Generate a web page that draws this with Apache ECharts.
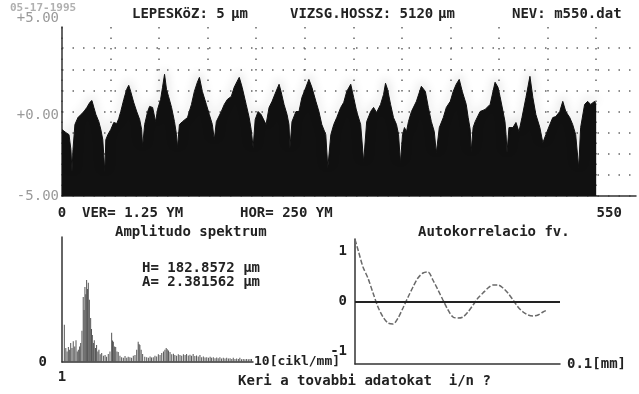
<!DOCTYPE html>
<html>
<head>
<meta charset="utf-8">
<script src="https://cdn.jsdelivr.net/npm/echarts@6/dist/echarts.min.js"></script>
<style>
html,body{margin:0;padding:0;background:#fff;}
#main{width:639px;height:394px;}
</style>
</head>
<body>
<div id="main"></div>
<script>
// felulet profil: [pozicio, magassag um]
var profilePoints = [
	[0,-1.07],[4.1,-1.25],[7.2,-1.37],[9.2,-2.26],[10.3,-3.57],[11.3,-2.26],[13.3,-0.77],[16.4,-0.36],[19.5,-0.18],[22.6,0],
	[25.6,0.24],[28.7,0.54],[30.8,0.65],[32.8,0.24],[34.9,-0.18],[37.9,-0.60],[40,-1.07],[42,-1.67],[44.1,-3.57],[45.1,-1.67],
	[47.2,-1.37],[50.2,-1.07],[53.3,-0.65],[56.4,-0.71],[58.4,-0.42],[60.5,0],[63.6,0.71],[66.6,1.31],[68.7,1.55],[70.7,1.19],
	[73.8,0.54],[76.9,0],[80,-0.48],[82,-1.07],[83,-2.08],[85.1,-0.77],[88.2,0],[90.2,0.30],[93.3,0.24],[96.4,-0.60],
	[98.4,0.12],[101.5,0.71],[103.5,1.43],[105.6,2.20],[107.6,1.31],[109.7,0.89],[112.8,0.24],[115.8,-0.60],[117.9,-1.37],[118.9,-2.14],
	[120.9,-0.77],[124,-0.60],[129.2,-0.36],[133.3,0.42],[136.3,1.19],[139.4,1.73],[141.5,2.02],[144.5,1.19],[148.6,0.42],[151.7,-0.18],
	[154.8,-0.77],[156.8,-1.67],[158.9,-0.60],[164,0],[167.1,0.42],[170.2,0.71],[174.3,0.89],[177.3,1.43],[180.4,1.79],[182.5,2.02],
	[185.5,1.43],[189.6,0.42],[192.7,-0.36],[194.8,-1.07],[196.8,-2.14],[198.9,-0.48],[201.9,0],[205,-0.18],[210.1,-0.77],[213.2,0.24],
	[216.3,0.60],[220.4,1.19],[223.5,1.61],[225.5,1.19],[228.6,0.42],[231.7,-0.18],[233.7,-0.77],[234.7,-2.14],[236.8,-0.60],[240.9,0],
	[244,0],[247,0.83],[251.1,1.43],[254.2,1.90],[257.3,1.43],[261.4,0.60],[264.5,0],[267.5,-0.77],[271.6,-1.37],[273.7,-3.33],
	[276.8,-1.37],[279.8,-0.77],[282.9,-0.36],[287,0.24],[290.1,0.54],[293.2,1.19],[297.3,1.61],[300.3,0.83],[303.4,0],[307.5,-0.77],
	[310.6,-2.98],[313.7,-0.60],[317.8,0],[320.8,0.24],[323.9,-0.06],[328,0.42],[331.1,1.01],[333.1,1.67],[335.2,1.31],[338.3,0.42],
	[341.3,-0.36],[344.4,-0.77],[346.5,-1.37],[348.5,-3.04],[350.6,-1.37],[352.6,-0.95],[354.7,-1.19],[356.7,-0.60],[359.8,0],[364.9,0.60],
	[370,1.49],[374.1,1.19],[377.2,0.24],[380.3,-0.60],[383.3,-1.19],[385.4,-2.44],[388.5,-0.95],[392.6,-0.36],[395.7,0.24],[399.8,0.60],
	[402.8,1.19],[405.9,1.61],[409,1.90],[412.1,1.19],[416.2,0.42],[418.2,-0.36],[420.3,-1.07],[421.3,-2.38],[423.3,-0.95],[425.4,-0.60],
	[430.5,0],[435.6,0.12],[440.8,0.42],[443.8,1.19],[445.9,1.73],[448.9,1.43],[451,0.89],[454.1,0],[456.1,-0.60],[457.2,-1.37],
	[458.2,-2.44],[460.2,-0.95],[464.3,-0.95],[467.4,-0.65],[470.5,-1.19],[473.6,-0.36],[477.7,0.83],[481.8,2.08],[484.8,0.83],[487.9,-0.18],
	[492,-0.95],[495.1,-1.85],[498.2,-1.37],[502.3,-0.77],[505.3,-0.36],[508.4,-0.30],[512.5,0],[515.6,0.60],[518.7,0],[522.8,-0.36],
	[525.8,-0.77],[528.9,-1.37],[532,-3.33],[534,-0.95],[538.1,0.42],[541.2,0.60],[544.3,0.42],[548.4,0.60],[550,0.42]
];
var profileYTicks = [-5, 0, 5];
var profileXTicks = [0, 550];

// amplitudo spektrum: [cikl/mm, um]
var spectrumPoints = [
	[1.11,1.07],[1.18,0.40],[1.24,0.30],[1.30,0.43],[1.36,0.35],[1.41,0.55],[1.47,0.40],[1.53,0.60],[1.60,0.45],[1.66,0.63],
	[1.72,0.30],[1.77,0.35],[1.83,0.45],[1.88,0.55],[1.94,0.90],[2.00,1.87],[2.04,1.50],[2.08,2.16],[2.12,1.95],[2.16,2.36],
	[2.20,2.10],[2.24,2.28],[2.29,1.79],[2.35,1.27],[2.39,0.95],[2.43,0.78],[2.48,0.55],[2.52,0.63],[2.58,0.40],[2.63,0.49],
	[2.69,0.30],[2.74,0.35],[2.80,0.22],[2.87,0.26],[2.95,0.18],[3.03,0.20],[3.10,0.15],[3.18,0.23],[3.26,0.30],[3.34,0.84],
	[3.38,0.62],[3.42,0.58],[3.48,0.45],[3.53,0.43],[3.59,0.30],[3.65,0.29],[3.73,0.18],[3.81,0.14],[3.89,0.12],[3.97,0.17],
	[4.05,0.12],[4.12,0.15],[4.20,0.14],[4.28,0.12],[4.36,0.18],[4.44,0.20],[4.52,0.35],[4.59,0.58],[4.63,0.52],[4.67,0.49],
	[4.73,0.35],[4.80,0.23],[4.90,0.15],[4.99,0.14],[5.07,0.12],[5.15,0.16],[5.22,0.13],[5.30,0.14],[5.38,0.18],[5.46,0.16],
	[5.54,0.22],[5.62,0.20],[5.70,0.26],[5.78,0.30],[5.85,0.35],[5.91,0.40],[5.96,0.37],[6.02,0.33],[6.09,0.29],[6.17,0.22],
	[6.25,0.24],[6.32,0.20],[6.40,0.18],[6.48,0.22],[6.56,0.20],[6.64,0.18],[6.72,0.22],[6.80,0.20],[6.87,0.23],[6.95,0.19],
	[7.03,0.21],[7.10,0.18],[7.18,0.23],[7.26,0.17],[7.34,0.19],[7.42,0.16],[7.50,0.20],[7.58,0.14],[7.66,0.16],[7.74,0.13],
	[7.82,0.14],[7.90,0.12],[7.98,0.15],[8.05,0.12],[8.13,0.14],[8.21,0.11],[8.29,0.13],[8.36,0.11],[8.44,0.14],[8.52,0.10],
	[8.60,0.12],[8.68,0.10],[8.76,0.12],[8.84,0.10],[8.92,0.11],[9.00,0.09],[9.07,0.12],[9.15,0.09],[9.23,0.10],[9.31,0.09],
	[9.38,0.12],[9.46,0.08],[9.54,0.09],[9.62,0.08],[9.70,0.09],[9.78,0.08],[9.86,0.09],[9.93,0.09]
];

// autokorrelacio: [0.1 mm, ertek]
var acfPoints = [
	[0,1.24],[0.15,1.03],[0.39,0.69],[0.63,0.47],[0.88,0.17],[1.12,-0.11],[1.37,-0.31],[1.61,-0.43],[1.85,-0.45],[2.10,-0.33],
	[2.34,-0.13],[2.59,0.09],[2.83,0.29],[3.07,0.47],[3.32,0.57],[3.56,0.59],[3.80,0.43],[4.05,0.23],[4.29,0.03],[4.54,-0.17],
	[4.78,-0.31],[5.02,-0.33],[5.27,-0.31],[5.51,-0.21],[5.76,-0.07],[6.00,0.07],[6.24,0.17],[6.49,0.27],[6.73,0.33],[6.98,0.33],
	[7.22,0.27],[7.46,0.17],[7.71,0.03],[7.95,-0.11],[8.20,-0.21],[8.44,-0.27],[8.68,-0.29],[8.93,-0.27],[9.17,-0.21],[9.37,-0.17]
];
var acfTicks = [-1, 0, 1];

var MONO = '"DejaVu Sans Mono", monospace';
var INK = '#222';

function txt(x, y, s, color, size){
	return {
		type: 'text', x: x, y: y, silent: true,
		style: {text: s, fill: color || INK, font: 'bold ' + (size || 14) + 'px ' + MONO, verticalAlign: 'middle'}
	};
}

var labelStyle = {fontFamily: MONO, fontWeight: 'bold', fontSize: 14, color: INK};
var axisInk = {show: true, onZero: false, lineStyle: {color: '#333', width: 1.5}};
var dots = {show: true, showMaxLine: false, lineStyle: {color: '#666', width: 1.5, type: [1.5, 9]}};

var myChart = echarts.init(document.getElementById('main'));
var option = {
	animation: false,
	backgroundColor: '#fff',
	grid: [
		{left: 62, top: 27, width: 577, height: 169},
		{left: 62, top: 237, width: 191, height: 125},
		{left: 355, top: 239, width: 205, height: 125}
	],
	xAxis: [
		{
			gridIndex: 0, type: 'value', min: 0, max: 591, interval: 50,
			axisLine: axisInk, axisTick: {show: false}, splitLine: dots,
			axisLabel: Object.assign({}, labelStyle, {
				margin: 10,
				formatter: function(v){
					if(profileXTicks.indexOf(v) < 0) return '';
					return v === 0 ? '0' : '{r|' + v + '}';
				},
				rich: {r: {padding: [0, 0, 0, 26]}}
			})
		},
		{
			gridIndex: 1, type: 'value', min: 1, max: 10, interval: 1,
			axisLine: axisInk, axisTick: {show: false}, splitLine: {show: false},
			name: '10[cikl/mm]', nameLocation: 'end', nameGap: 1,
			nameTextStyle: Object.assign({}, labelStyle, {verticalAlign: 'middle', align: 'left', fontSize: 13}),
			axisLabel: Object.assign({}, labelStyle, {
				margin: 8,
				formatter: function(v){ return v === 1 ? '1' : ''; }
			})
		},
		{
			gridIndex: 2, type: 'value', min: 0, max: 10,
			axisLine: axisInk, axisTick: {show: false}, splitLine: {show: false},
			name: '0.1[mm]', nameLocation: 'end', nameGap: 7,
			nameTextStyle: Object.assign({}, labelStyle, {verticalAlign: 'middle', align: 'left'}),
			axisLabel: {show: false}
		}
	],
	yAxis: [
		{
			gridIndex: 0, type: 'value', min: -5, max: 5, interval: 1.25,
			axisLine: axisInk, axisTick: {show: false}, splitLine: dots,
			axisLabel: Object.assign({}, labelStyle, {
				color: '#9a9a9a', margin: 3, fontWeight: 'normal',
				formatter: function(v){
					if(profileYTicks.indexOf(v) < 0) return '';
					if(v === 5) return '{t|+5.00}';
					if(v === 0) return '{m|+0.00}';
					return '-5.00';
				},
				rich: {t: {padding: [0, 0, 18, 0]}, m: {padding: [7, 0, 0, 0]}}
			})
		},
		{
			gridIndex: 1, type: 'value', min: 0, max: 3.6,
			axisLine: axisInk, axisTick: {show: false}, splitLine: {show: false},
			axisLabel: Object.assign({}, labelStyle, {
				margin: 15,
				formatter: function(v){ return v === 0 ? '0' : ''; }
			})
		},
		{
			gridIndex: 2, type: 'value', min: -1.25, max: 1.25, interval: 0.25,
			axisLine: axisInk, axisTick: {show: false}, splitLine: {show: false},
			axisLabel: Object.assign({}, labelStyle, {
				margin: 8,
				formatter: function(v){ return acfTicks.indexOf(v) < 0 ? '' : String(v); }
			})
		}
	],
	series: [
		{
			type: 'line', xAxisIndex: 0, yAxisIndex: 0,
			data: profilePoints, symbol: 'none',
			lineStyle: {color: '#111', width: 1, shadowColor: 'rgba(0,0,0,0.45)', shadowBlur: 10, shadowOffsetY: -3},
			areaStyle: {color: '#111', origin: 'start', opacity: 1}
		},
		{
			type: 'bar', xAxisIndex: 1, yAxisIndex: 1,
			data: spectrumPoints, barWidth: 1,
			itemStyle: {color: '#555'}
		},
		{
			type: 'line', xAxisIndex: 2, yAxisIndex: 2,
			data: acfPoints, symbol: 'none', smooth: 0.3,
			lineStyle: {color: '#6a6a6a', width: 1.5, type: [5, 2]},
			markLine: {
				silent: true, symbol: ['none', 'none'], label: {show: false},
				lineStyle: {color: '#222', width: 2, type: 'solid'},
				data: [{yAxis: 0}]
			}
		}
	],
	graphic: [
		txt(10, 8, '05-17-1995', '#b0b0b0', 11),
		txt(132, 14, 'LEPESKöZ: 5'),
		txt(231, 14, 'µm'),
		txt(290, 14, 'VIZSG.HOSSZ: 5120'),
		txt(438, 14, 'µm'),
		txt(512, 14, 'NEV: m550.dat'),
		txt(82, 213, 'VER= 1.25 YM'),
		txt(240, 213, 'HOR= 250 YM'),
		txt(115, 232, 'Amplitudo spektrum'),
		txt(142, 268, 'H= 182.8572 µm'),
		txt(142, 282, 'A= 2.381562 µm'),
		txt(418, 232, 'Autokorrelacio fv.'),
		txt(238, 381, 'Keri a tovabbi adatokat  i/n ?')
	]
};
myChart.setOption(option);
</script>
</body>
</html>
